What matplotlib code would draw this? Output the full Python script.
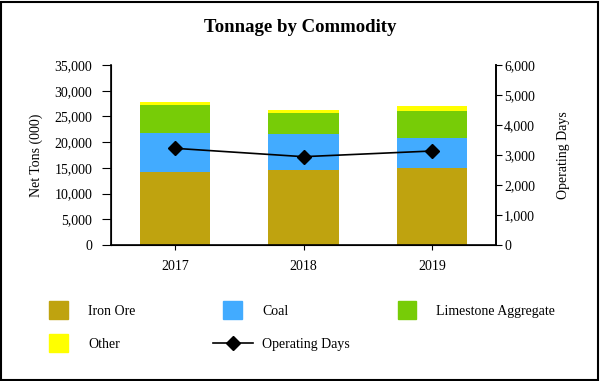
import matplotlib
matplotlib.use("Agg")
import matplotlib.pyplot as plt
import matplotlib.patches as mpatches
from matplotlib.legend_handler import HandlerPatch
from matplotlib.ticker import FuncFormatter, MultipleLocator
import numpy as np

years = ["2017", "2018", "2019"]
iron_ore = [14250, 14520, 14900]
coal = [7470, 7000, 5970]
limestone = [5500, 4210, 5250]
other = [580, 520, 970]
operating_days = [3222, 2944, 3133]

colors = {"Iron Ore": "#BFA30F", "Coal": "#42ABFF",
          "Limestone Aggregate": "#77CC07", "Other": "#FFFF00"}

plt.rcParams["font.family"] = ["Liberation Serif", "DejaVu Serif"]

fig = plt.figure(figsize=(6, 3.81), dpi=100)
ax = fig.add_axes([111/600, 1-245/381, 385/600, 180/381])
x = np.arange(len(years))
w = 0.55

ax.bar(x, iron_ore, w, color=colors["Iron Ore"], label="Iron Ore")
bot = np.array(iron_ore, dtype=float)
ax.bar(x, coal, w, bottom=bot, color=colors["Coal"], label="Coal")
bot += coal
ax.bar(x, limestone, w, bottom=bot, color=colors["Limestone Aggregate"], label="Limestone Aggregate")
bot += limestone
ax.bar(x, other, w, bottom=bot, color=colors["Other"], label="Other")

ax.set_xlim(-0.5, 2.5)
ax.set_ylim(0, 35000)
ax.yaxis.set_major_locator(MultipleLocator(5000))
fmt = FuncFormatter(lambda v, p: f"{int(v):,}")
ax.yaxis.set_major_formatter(fmt)
ax.set_xticks(x)
ax.set_xticklabels(years)
ax.spines["top"].set_visible(False)
for s in ["left", "bottom", "right"]:
    ax.spines[s].set_linewidth(1.2)
ax.tick_params(axis="y", labelsize=10, length=6.5, width=0.8, pad=7, direction="out")
ax.tick_params(axis="x", labelsize=10, length=3.6, width=0.8, pad=7, direction="out")
ax.set_ylabel("Net Tons (000)", fontsize=10, labelpad=8)

ax2 = ax.twinx()
ax2.set_ylim(0, 6000)
ax2.yaxis.set_major_locator(MultipleLocator(1000))
ax2.yaxis.set_major_formatter(fmt)
ax2.spines["top"].set_visible(False)
ax2.spines["right"].set_linewidth(1.2)
ax2.tick_params(axis="y", labelsize=10, length=4.3, width=0.8, pad=1.5)
ax2.set_ylabel("Operating Days", fontsize=10, labelpad=16)
line, = ax2.plot(x, operating_days, color="black", lw=1.2, marker="D",
                 markersize=7, label="Operating Days")

fig.text(0.5, 1-28/381, "Tonnage by Commodity", ha="center", va="center",
         fontsize=13.5, fontweight="bold")


def make_square(legend, orig_handle, xdescent, ydescent, width, height, fontsize):
    s = 13
    return mpatches.Rectangle((-xdescent + (width - s) / 2, -ydescent + (height - s) / 2), s, s)

hm = {mpatches.Rectangle: HandlerPatch(patch_func=make_square)}


def mk(handles, labels, xpx):
    return fig.legend(handles, labels, loc="upper left",
                      bbox_to_anchor=(xpx/600, 1-305/381), frameon=False,
                      borderpad=0, borderaxespad=0, handlelength=2.88,
                      handletextpad=0.68, labelspacing=1.45, fontsize=10,
                      handler_map=hm)


p_iron = mpatches.Rectangle((0, 0), 1, 1, color=colors["Iron Ore"])
p_coal = mpatches.Rectangle((0, 0), 1, 1, color=colors["Coal"])
p_lime = mpatches.Rectangle((0, 0), 1, 1, color=colors["Limestone Aggregate"])
p_oth = mpatches.Rectangle((0, 0), 1, 1, color=colors["Other"])

mk([p_iron, p_oth], ["Iron Ore", "Other"], 38.5)
mk([p_coal, line], ["Coal", "Operating Days"], 212.5)
mk([p_lime], ["Limestone Aggregate"], 387)

fig.patches.append(mpatches.Rectangle((1/600, 1/381), 597/600, 378/381,
                   transform=fig.transFigure, fill=False, edgecolor="black",
                   linewidth=1.5))

fig.savefig("out.png", dpi=100)
